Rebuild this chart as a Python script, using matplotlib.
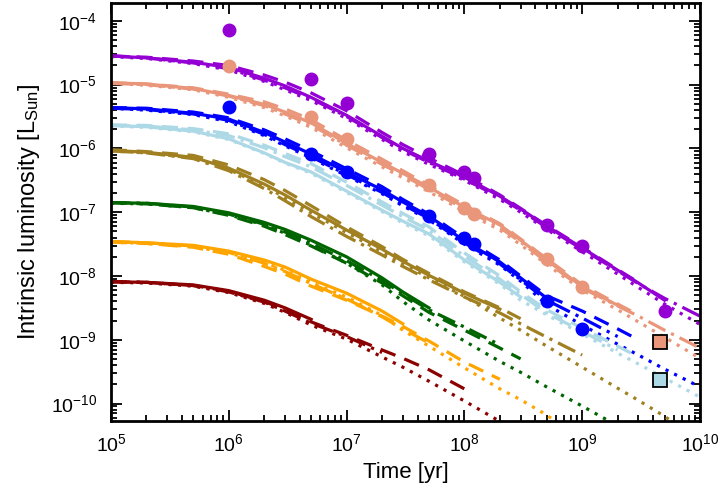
import numpy as np
import matplotlib
matplotlib.use("Agg")
import matplotlib.pyplot as plt
from matplotlib.ticker import LogLocator, NullFormatter

nan = np.nan

plt.rcParams['font.family'] = ['Liberation Sans', 'DejaVu Sans']
plt.rcParams['mathtext.default'] = 'regular'
plt.rcParams['axes.unicode_minus'] = False

# time grid of the model tracks [yr]
time_yr = [1e5, 2e5, 5e5, 1e6, 2e6, 3e6, 5e6, 1e7, 2e7, 3e7,
           5e7, 1e8, 2e8, 3e8, 5e8, 1e9, 2e9, 3e9, 5e9, 1e10]

# log10 of intrinsic luminosity [L_Sun]; nan where a track is not drawn
purple_solid   = [-4.55, -4.58, -4.65, -4.73, -4.90, -5.02, -5.20, -5.48, -5.81, -6.00, -6.20, -6.45, -6.75, -6.95, -7.22, -7.56, -7.91, -8.11, -8.38, nan]
purple_dashed  = [-4.55, -4.57, -4.63, -4.70, -4.85, -4.96, -5.13, -5.41, -5.75, -5.94, -6.15, -6.42, -6.73, -6.94, -7.21, -7.55, -7.90, -8.10, nan, nan]
purple_dashdot = [-4.55, -4.58, -4.66, -4.75, -4.93, -5.05, -5.22, -5.50, -5.83, -6.02, -6.22, -6.48, -6.77, -6.97, -7.24, -7.58, -7.92, -8.12, -8.35, -8.63]
purple_dotted  = [-4.56, -4.59, -4.67, -4.77, -4.95, -5.08, -5.25, -5.53, -5.86, -6.05, -6.25, -6.50, -6.80, -7.00, -7.27, -7.62, -7.97, -8.18, -8.44, -8.76]

salmon_solid   = [-4.97, -4.99, -5.06, -5.17, -5.31, -5.43, -5.60, -5.92, -6.22, -6.39, -6.61, -6.92, -7.20, -7.44, -7.75, -8.17, -8.46, nan, nan, nan]
salmon_dashed  = [-4.97, -4.99, -5.05, -5.15, -5.27, -5.38, -5.55, -5.87, -6.17, -6.35, -6.58, -6.89, -7.18, -7.42, -7.73, -8.14, -8.44, -8.61, nan, nan]
salmon_dashdot = [-4.98, -5.00, -5.07, -5.18, -5.33, -5.46, -5.63, -5.95, -6.25, -6.42, -6.64, -6.95, -7.24, -7.47, -7.78, -8.19, -8.47, -8.63, -8.85, -9.13]
salmon_dotted  = [-4.98, -5.01, -5.08, -5.20, -5.36, -5.49, -5.67, -5.99, -6.29, -6.46, -6.68, -6.99, -7.28, -7.51, -7.82, -8.22, -8.53, -8.72, -8.96, -9.29]

blue_solid     = [-5.36, -5.38, -5.45, -5.54, -5.75, -5.90, -6.09, -6.37, -6.65, -6.84, -7.06, -7.45, -7.78, -8.03, -8.35] + [nan] * 5
blue_dashed    = [-5.36, -5.37, -5.43, -5.52, -5.71, -5.85, -6.04, -6.32, -6.60, -6.80, -7.03, -7.41, -7.75, -8.00, -8.31, -8.55, -8.83, -9.00, nan, nan]
blue_dashdot   = [-5.37, -5.39, -5.46, -5.56, -5.78, -5.94, -6.13, -6.41, -6.69, -6.88, -7.10, -7.48, -7.81, -8.06, -8.38, -8.66, -8.95, nan, nan, nan]
blue_dotted    = [-5.37, -5.40, -5.47, -5.58, -5.80, -5.96, -6.15, -6.43, -6.71, -6.90, -7.12, -7.50, -7.83, -8.08, -8.45, -8.77, -9.07, -9.24, -9.46, -9.74]

lblue_solid    = [-5.64, -5.66, -5.73, -5.85, -6.07, -6.22, -6.37, -6.67, -6.97, -7.14, -7.34, -7.75, -8.10, -8.33] + [nan] * 6
lblue_dashed   = [-5.63, -5.64, -5.69, -5.77, -5.95, -6.08, -6.24, -6.53, -6.84, -7.02, -7.23, -7.64, -8.00, -8.25, -8.53, -8.82, -9.10, -9.27, nan, nan]
lblue_dashdot  = [-5.64, -5.65, -5.71, -5.80, -5.99, -6.13, -6.29, -6.58, -6.89, -7.07, -7.28, -7.69, -8.05, -8.29, -8.58, -8.87, -9.16, nan, nan, nan]
lblue_dotted   = [-5.65, -5.67, -5.74, -5.86, -6.08, -6.23, -6.39, -6.69, -6.99, -7.17, -7.37, -7.78, -8.13, -8.38, -8.61, -8.91, -9.21, -9.38, -9.60, -9.90]

gold_solid     = [-6.03, -6.06, -6.14, -6.31, -6.56, -6.73, -6.97, -7.28, -7.58, -7.77, -7.99, -8.27, -8.52] + [nan] * 7
gold_dashed    = [-6.02, -6.05, -6.11, -6.26, -6.49, -6.66, -6.90, -7.23, -7.54, -7.74, -7.96, -8.25, -8.50, -8.67] + [nan] * 6
gold_dashdot   = [-6.04, -6.07, -6.16, -6.35, -6.63, -6.82, -7.07, -7.38, -7.67, -7.85, -8.06, -8.33, -8.58, -8.75, -8.96, -9.24] + [nan] * 4
gold_dotted    = [-6.04, -6.07, -6.15, -6.33, -6.59, -6.77, -7.01, -7.32, -7.62, -7.81, -8.03, -8.32, -8.66, -8.85, -9.10, -9.43, -9.76, -9.95, -10.20, -10.60]

green_solid    = [-6.85, -6.86, -6.91, -7.01, -7.16, -7.27, -7.44, -7.70, -8.03, -8.25, -8.50] + [nan] * 9
green_dashed   = [-6.85, -6.87, -6.93, -7.05, -7.22, -7.35, -7.53, -7.80, -8.11, -8.31, -8.57, -8.85, -9.13, -9.30] + [nan] * 6
green_dashdot  = [-6.85, -6.86, -6.92, -7.03, -7.19, -7.31, -7.49, -7.76, -8.07, -8.28, -8.53, -8.80, -9.08] + [nan] * 7
green_dotted   = [-6.86, -6.87, -6.93, -7.04, -7.20, -7.33, -7.52, -7.80, -8.14, -8.40, -8.69, -9.02, -9.34, -9.51, -9.74, -10.04, -10.35, nan, nan, nan]

orange_solid   = [-7.46, -7.48, -7.52, -7.61, -7.75, -7.86, -8.05, -8.27, -8.55, -8.75] + [nan] * 10
orange_dashed  = [-7.47, -7.49, -7.55, -7.66, -7.85, -7.97, -8.16, -8.38, -8.63, -8.79, -9.02, -9.35, -9.62] + [nan] * 7
orange_dashdot = [-7.46, -7.48, -7.53, -7.63, -7.80, -7.93, -8.12, -8.36, -8.64, -8.83, -9.05] + [nan] * 9
orange_dotted  = [-7.47, -7.49, -7.54, -7.64, -7.79, -7.91, -8.10, -8.33, -8.62, -8.85, -9.10, -9.44, -9.77, -9.94, -10.18, -10.60] + [nan] * 4

dred_solid     = [-8.09, -8.10, -8.14, -8.23, -8.38, -8.50, -8.68] + [nan] * 13
dred_dashed    = [-8.09, -8.10, -8.15, -8.24, -8.40, -8.53, -8.72, -8.93, -9.16, -9.29, -9.47, -9.77] + [nan] * 8
dred_dashdot   = [-8.09, -8.10, -8.15, -8.25, -8.41, -8.55, -8.74, -8.95, -9.20] + [nan] * 11
dred_dotted    = [-8.10, -8.11, -8.16, -8.26, -8.43, -8.57, -8.77, -8.99, -9.27, -9.43, -9.65, -9.96, -10.28, -10.50] + [nan] * 6

# simulated points [L_Sun]
obs_time = [1e6, 5e6, 1e7, 5e7, 1e8, 1.2e8, 5e8, 1e9, 5e9]
obs_purple = [7.3e-5, 1.22e-5, 5.1e-6, 8.1e-7, 4.3e-7, 3.4e-7, 6.3e-8, 2.9e-8, 2.85e-9]
obs_salmon = [1.95e-5, 3.06e-6, 1.38e-6, 2.66e-7, 1.15e-7, 9.3e-8, 1.82e-8, 6.8e-9]
obs_blue = [4.4e-6, 8.3e-7, 4.2e-7, 8.8e-8, 4.0e-8, 3.2e-8, 4.1e-9, 1.47e-9]

# solar system planets at 4.57 Gyr
planet_time = [4.57e9, 4.57e9]
planet_lum = [9.1e-10, 2.36e-10]
planet_colors = ['#e9967a', '#add8e6']

x_ticks = [1e5, 1e6, 1e7, 1e8, 1e9, 1e10]
y_ticks = [1e-10, 1e-9, 1e-8, 1e-7, 1e-6, 1e-5, 1e-4]

families = [
    ('#9400d3', purple_solid, purple_dashed, purple_dashdot, purple_dotted),
    ('#e9967a', salmon_solid, salmon_dashed, salmon_dashdot, salmon_dotted),
    ('#0000ff', blue_solid, blue_dashed, blue_dashdot, blue_dotted),
    ('#add8e6', lblue_solid, lblue_dashed, lblue_dashdot, lblue_dotted),
    ('#a08020', gold_solid, gold_dashed, gold_dashdot, gold_dotted),
    ('#006400', green_solid, green_dashed, green_dashdot, green_dotted),
    ('#ffa500', orange_solid, orange_dashed, orange_dashdot, orange_dotted),
    ('#8b0000', dred_solid, dred_dashed, dred_dashdot, dred_dotted),
]

styles = ['-', (0, (5, 3)), (0, (6, 2, 1, 2)), (0, (1, 2))]

fig = plt.figure(figsize=(7.28, 4.96), dpi=100)
ax = fig.add_axes([111 / 728, 75 / 496, 589 / 728, 418 / 496])

for color, *tracks in families:
    for vals, ls in zip(tracks, styles):
        ax.plot(time_yr, 10 ** np.array(vals), color=color, ls=ls, lw=2.3)

ax.plot(obs_time, obs_purple, 'o', color='#9400d3', ms=9, zorder=5)
ax.plot(obs_time[:8], obs_salmon, 'o', color='#e9967a', ms=9, zorder=5)
ax.plot(obs_time[:8], obs_blue, 'o', color='#0000ff', ms=9, zorder=5)
for t, lum, c in zip(planet_time, planet_lum, planet_colors):
    ax.plot(t, lum, 's', color=c, mec='black', mew=1.3, ms=10, zorder=6)

ax.set_xscale('log')
ax.set_yscale('log')
ax.set_xticks(x_ticks)
ax.set_yticks(y_ticks)
ax.set_xlim(1e5, 1e10)
ax.set_ylim(10 ** -10.274, 10 ** -3.72)

ax.xaxis.set_minor_locator(LogLocator(base=10, subs=np.arange(2, 10), numticks=12))
ax.yaxis.set_minor_locator(LogLocator(base=10, subs=np.arange(2, 10), numticks=12))
ax.xaxis.set_minor_formatter(NullFormatter())
ax.yaxis.set_minor_formatter(NullFormatter())

ax.tick_params(which='both', direction='in', top=True, right=True, width=1.3)
ax.tick_params(which='major', length=8, labelsize=14)
ax.tick_params(which='minor', length=4)
ax.tick_params(axis='x', which='major', pad=9)
ax.tick_params(axis='y', which='major', pad=10)
for sp in ax.spines.values():
    sp.set_linewidth(2.0)

ax.set_xlabel('Time [yr]', fontsize=16, labelpad=5)
ax.set_ylabel('Intrinsic luminosity [L$_{Sun}$]', fontsize=17, labelpad=6)

fig.savefig('out.png', dpi=100)
